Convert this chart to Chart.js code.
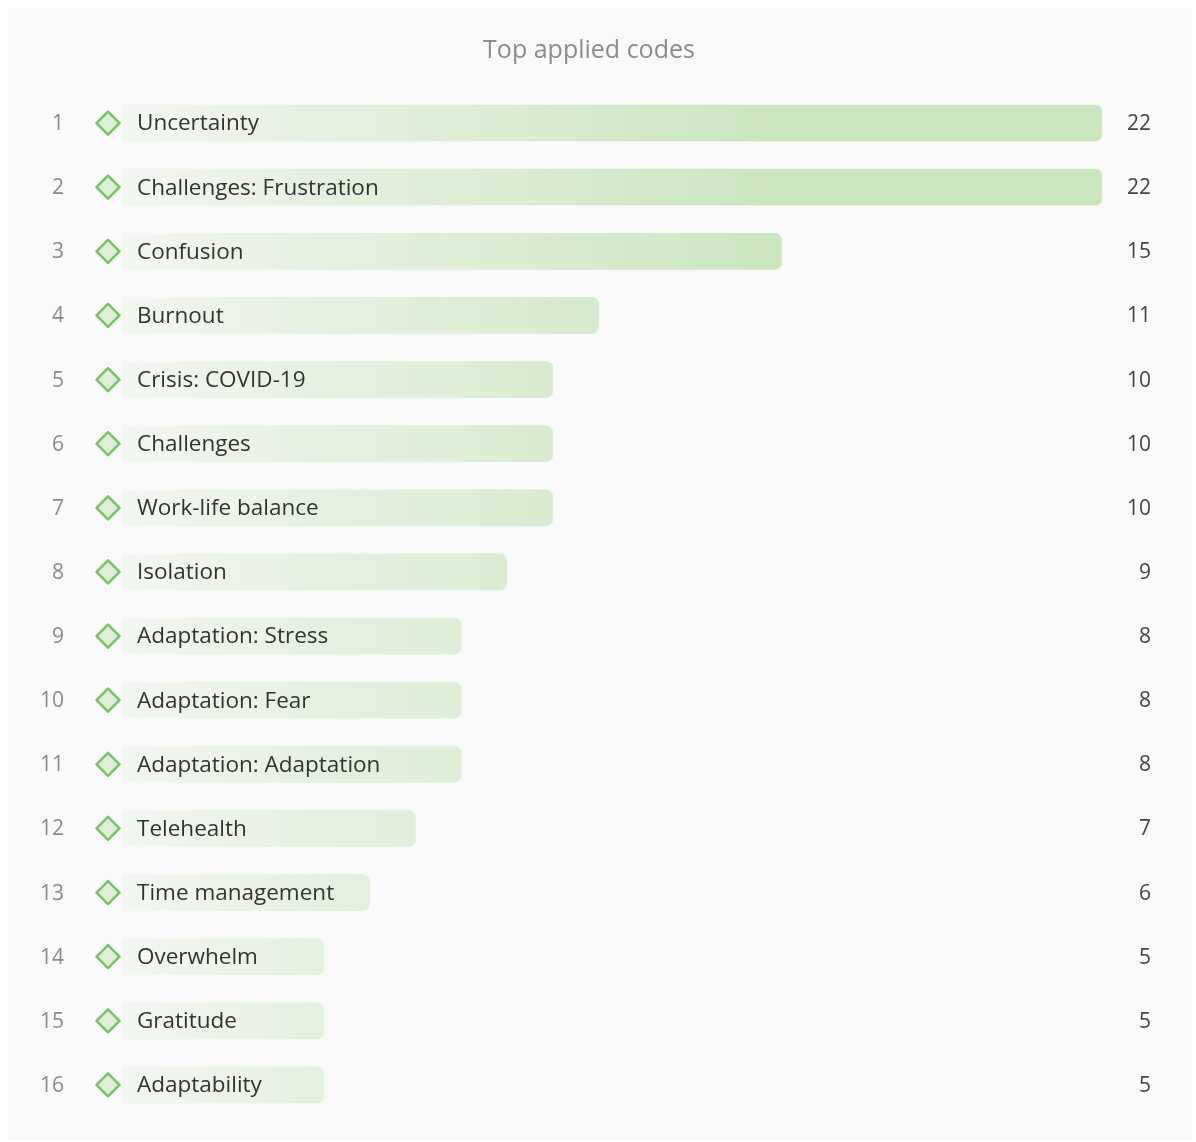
<!DOCTYPE html>
<html>
<head>
<meta charset="utf-8">
<title>Top applied codes</title>
<script src="https://cdn.jsdelivr.net/npm/chart.js@4/dist/chart.umd.min.js"></script>
<style>
  html, body { margin: 0; padding: 0; background: #ffffff; }
  #panel {
    position: absolute; left: 8px; top: 8px;
    width: 1184px; height: 1132px;
    background: #f9f9f9;
  }
  #chart { display: block; }
</style>
</head>
<body>
<div id="panel"><canvas id="chart" width="1184" height="1132"></canvas></div>
<script>
// data
const ranks = ['1','2','3','4','5','6','7','8','9','10','11','12','13','14','15','16'];
const codes = [
  'Uncertainty', 'Challenges: Frustration', 'Confusion', 'Burnout',
  'Crisis: COVID-19', 'Challenges', 'Work-life balance', 'Isolation',
  'Adaptation: Stress', 'Adaptation: Fear', 'Adaptation: Adaptation',
  'Telehealth', 'Time management', 'Overwhelm', 'Gratitude', 'Adaptability'
];
const counts = [22, 22, 15, 11, 10, 10, 10, 9, 8, 8, 8, 7, 6, 5, 5, 5];
const chartTitle = 'Top applied codes';

const fontFamily = '"Open Sans", "Noto Sans", sans-serif';

// green gradient across the plot, hidden behind the icon, full colour around value 15
function barFill(ctx) {
  const chart = ctx.chart;
  const area = chart.chartArea;
  if (!area) return '#cbe5bf';
  const x = chart.scales.x;
  const end = x.getPixelForValue(15);
  const g = chart.ctx.createLinearGradient(area.left, 0, end, 0);
  const startStop = 27 / (end - area.left);
  g.addColorStop(0, 'rgba(203,229,191,0)');
  g.addColorStop(startStop, 'rgba(203,229,191,0)');
  g.addColorStop(startStop + 0.001, 'rgba(203,229,191,0.12)');
  g.addColorStop(0.35, 'rgba(203,229,191,0.45)');
  g.addColorStop(1, 'rgba(203,229,191,1)');
  return g;
}

function diamond(c, cx, cy, r) {
  c.beginPath();
  c.moveTo(cx, cy - r);
  c.lineTo(cx + r, cy);
  c.lineTo(cx, cy + r);
  c.lineTo(cx - r, cy);
  c.closePath();
  c.fillStyle = '#ddf0d6';
  c.fill();
  c.lineWidth = 2.6;
  c.strokeStyle = '#78c468';
  c.lineJoin = 'round';
  c.stroke();
}

const rowDecor = {
  id: 'rowDecor',
  afterDatasetsDraw(chart) {
    const c = chart.ctx;
    const y = chart.scales.y;
    c.save();
    // title
    c.font = '25px ' + fontFamily;
    c.fillStyle = '#8c8c8c';
    c.textAlign = 'center';
    c.textBaseline = 'middle';
    c.fillText(chartTitle, 581, 43);

    c.textBaseline = 'middle';
    codes.forEach((name, i) => {
      const py = y.getPixelForValue(i);
      c.font = '21px ' + fontFamily;
      c.fillStyle = '#8a8a8a';
      c.textAlign = 'right';
      c.fillText(ranks[i], 56, py + 1);

      diamond(c, 100, py, 11.5);

      c.font = '22.5px ' + fontFamily;
      c.fillStyle = '#333333';
      c.textAlign = 'left';
      c.fillText(name, 129, py + 1);

      c.font = '21px ' + fontFamily;
      c.fillStyle = '#444444';
      c.textAlign = 'right';
      c.fillText(String(counts[i]), 1143, py + 1);
    });
    c.restore();
  }
};

new Chart(document.getElementById('chart'), {
  type: 'bar',
  data: {
    labels: codes,
    datasets: [{
      data: counts,
      backgroundColor: barFill,
      borderRadius: 7,
      borderSkipped: false,
      barThickness: 36
    }]
  },
  options: {
    indexAxis: 'y',
    responsive: false,
    animation: false,
    layout: { padding: { left: 87, right: 90, top: 83, bottom: 23 } },
    scales: {
      x: { display: false, min: 0, max: 22 },
      y: { display: false }
    },
    plugins: {
      legend: { display: false },
      tooltip: { enabled: false }
    }
  },
  plugins: [rowDecor]
});
</script>
</body>
</html>
